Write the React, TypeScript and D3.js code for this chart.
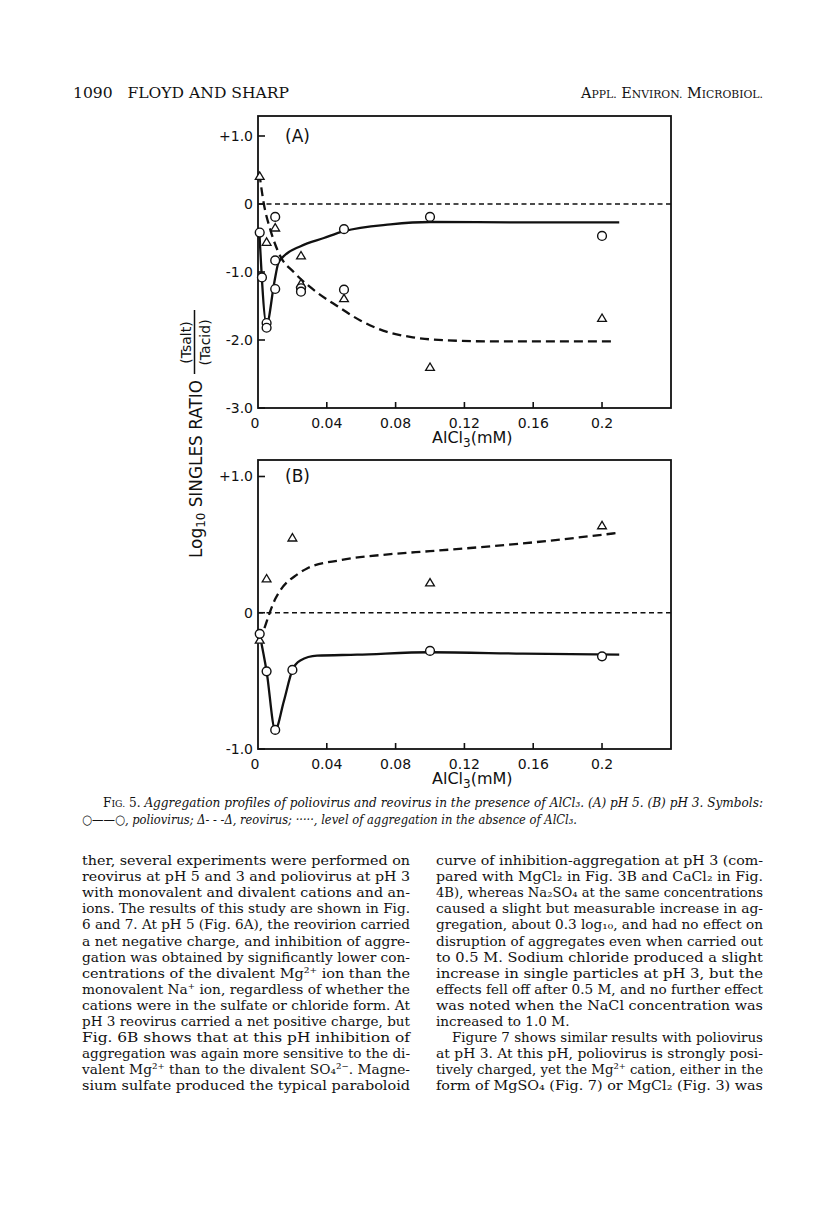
import React from 'react';
import * as d3 from 'd3';

// ---------- axis ticks ----------
const xTicks = [0, 0.04, 0.08, 0.12, 0.16, 0.2];
const xTickLabels = ['0', '0.04', '0.08', '0.12', '0.16', '0.2'];
const yTicksA = [1, 0, -1, -2, -3];
const yTickLabelsA = ['+1.0', '0', '-1.0', '-2.0', '-3.0'];
const yTicksB = [1, 0, -1];
const yTickLabelsB = ['+1.0', '0', '-1.0'];

// ---------- panel A (pH 5) ----------
const polioA_x = [0.001, 0.0023, 0.005, 0.005, 0.01, 0.01, 0.01, 0.025, 0.025, 0.05, 0.05, 0.1, 0.2];
const polioA_y = [-0.42, -1.08, -1.75, -1.82, -0.19, -0.83, -1.25, -1.24, -1.29, -0.37, -1.26, -0.19, -0.47];
const reoA_x = [0.001, 0.005, 0.01, 0.025, 0.025, 0.05, 0.1, 0.2];
const reoA_y = [0.41, -0.56, -0.35, -0.76, -1.17, -1.39, -2.4, -1.68];
const polioFitA_x = [0.0008, 0.005, 0.0095, 0.0118, 0.0149, 0.0248, 0.0383, 0.05, 0.077, 0.1, 0.155, 0.21];
const polioFitA_y = [-0.42, -1.77, -1.15, -0.87, -0.77, -0.62, -0.5, -0.4, -0.3, -0.265, -0.27, -0.27];
const reoFitA_x = [0.0008, 0.0033, 0.0072, 0.013, 0.0207, 0.0343, 0.046, 0.06, 0.075, 0.09, 0.1, 0.135, 0.207];
const reoFitA_y = [0.45, 0.015, -0.38, -0.77, -1.0, -1.3, -1.5, -1.72, -1.88, -1.96, -1.99, -2.02, -2.02];

// ---------- panel B (pH 3) ----------
const polioB_x = [0.001, 0.005, 0.01, 0.02, 0.1, 0.2];
const polioB_y = [-0.155, -0.43, -0.86, -0.42, -0.28, -0.32];
const reoB_x = [0.001, 0.005, 0.02, 0.1, 0.2];
const reoB_y = [-0.2, 0.25, 0.55, 0.22, 0.64];
const polioFitB_x = [0.001, 0.005, 0.01, 0.015, 0.02, 0.0246, 0.0343, 0.0576, 0.1, 0.154, 0.21];
const polioFitB_y = [-0.16, -0.43, -0.86, -0.65, -0.42, -0.35, -0.315, -0.308, -0.29, -0.3, -0.308];
const reoFitB_x = [0.001, 0.0033, 0.0068, 0.01, 0.013, 0.0227, 0.0285, 0.0478, 0.077, 0.1, 0.154, 0.21];
const reoFitB_y = [-0.21, -0.13, 0.0, 0.1, 0.165, 0.28, 0.325, 0.386, 0.43, 0.452, 0.509, 0.587];

// ---------- page text ----------
const headerLeft = '1090   FLOYD AND SHARP';
const leftLines = [
  'ther, several experiments were performed on',
  'reovirus at pH 5 and 3 and poliovirus at pH 3',
  'with monovalent and divalent cations and an-',
  'ions. The results of this study are shown in Fig.',
  '6 and 7. At pH 5 (Fig. 6A), the reovirion carried',
  'a net negative charge, and inhibition of aggre-',
  'gation was obtained by significantly lower con-',
  'centrations of the divalent Mg\u00B2\u207A ion than the',
  'monovalent Na\u207A ion, regardless of whether the',
  'cations were in the sulfate or chloride form. At',
  'pH 3 reovirus carried a net positive charge, but',
  'Fig. 6B shows that at this pH inhibition of',
  'aggregation was again more sensitive to the di-',
  'valent Mg\u00B2\u207A than to the divalent SO\u2084\u00B2\u207B. Magne-',
  'sium sulfate produced the typical paraboloid',
];
const rightLines = [
  'curve of inhibition-aggregation at pH 3 (com-',
  'pared with MgCl\u2082 in Fig. 3B and CaCl\u2082 in Fig.',
  '4B), whereas Na\u2082SO\u2084 at the same concentrations',
  'caused a slight but measurable increase in ag-',
  'gregation, about 0.3 log\u2081\u2080, and had no effect on',
  'disruption of aggregates even when carried out',
  'to 0.5 M. Sodium chloride produced a slight',
  'increase in single particles at pH 3, but the',
  'effects fell off after 0.5 M, and no further effect',
  'was noted when the NaCl concentration was',
  'increased to 1.0 M.',
  'Figure 7 shows similar results with poliovirus',
  'at pH 3. At this pH, poliovirus is strongly posi-',
  'tively charged, yet the Mg\u00B2\u207A cation, either in the',
  'form of MgSO\u2084 (Fig. 7) or MgCl\u2082 (Fig. 3) was',
];
const caption1 = 'Aggregation profiles of poliovirus and reovirus in the presence of AlCl\u2083. (A) pH 5. (B) pH 3. Symbols:';
const caption2 = '\u25CB\u2014\u2014\u25CB, poliovirus; \u0394- - -\u0394, reovirus; \u00B7\u00B7\u00B7\u00B7\u00B7, level of aggregation in the absence of AlCl\u2083.';

const FIG_FONT = '"DejaVu Sans", "Liberation Sans", sans-serif';
const TEXT_FONT = '"DejaVu Serif", "Liberation Serif", serif';

const x = d3.scaleLinear().domain([0, 0.2401]).range([258, 671]);

type PanelProps = {
  y: d3.ScaleLinear<number, number>;
  yTicks: number[];
  yTickLabels: string[];
  label: string;
  polioX: number[]; polioY: number[];
  reoX: number[]; reoY: number[];
  pfX: number[]; pfY: number[];
  rfX: number[]; rfY: number[];
};

function Panel(p: PanelProps) {
  const { y } = p;
  const [y0, y1] = y.range();
  const [x0, x1] = x.range();
  const line = d3.line<[number, number]>()
    .x((d) => x(d[0]))
    .y((d) => y(d[1]))
    .curve(d3.curveMonotoneX);
  const polioFit = p.pfX.map((v, i) => [v, p.pfY[i]] as [number, number]);
  const reoFit = p.rfX.map((v, i) => [v, p.rfY[i]] as [number, number]);
  return (
    <g>
      <rect x={x0} y={y1} width={x1 - x0} height={y0 - y1} fill="none" stroke="#111" strokeWidth={1.8} />
      {p.yTicks.map((t, i) => (
        <g key={'yt' + i}>
          <line x1={x0} x2={x0 + 7} y1={y(t)} y2={y(t)} stroke="#111" strokeWidth={1.6} />
          <text x={x0 - 5} y={y(t) + 5} textAnchor="end" fontFamily={FIG_FONT} fontSize={14} fill="#111">
            {p.yTickLabels[i]}
          </text>
        </g>
      ))}
      {xTicks.map((t, i) => (
        <g key={'xt' + i}>
          {i > 0 && <line x1={x(t)} x2={x(t)} y1={y0} y2={y0 - 6} stroke="#111" strokeWidth={1.6} />}
          <text x={x(t) - (i === 0 ? 3 : 0)} y={y0 + 20} textAnchor="middle" fontFamily={FIG_FONT} fontSize={14} fill="#111">
            {xTickLabels[i]}
          </text>
        </g>
      ))}
      <text x={432} y={y0 + 35} fontFamily={FIG_FONT} fontSize={16} fill="#111">
        AlCl<tspan dy={4} fontSize={12}>3</tspan><tspan dy={-4}>(mM)</tspan>
      </text>
      <text x={285} y={y(1) + 6} fontFamily={FIG_FONT} fontSize={17} fill="#111">{p.label}</text>
      <line x1={x0} x2={x1} y1={y(0)} y2={y(0)} stroke="#111" strokeWidth={1.3} strokeDasharray="5,3.5" />
      <path d={line(reoFit) || ''} fill="none" stroke="#111" strokeWidth={2.3} strokeDasharray="9,5" />
      <path d={line(polioFit) || ''} fill="none" stroke="#111" strokeWidth={2.3} />
      {p.reoX.map((v, i) => {
        const cx = x(v);
        const cy = y(p.reoY[i]);
        return (
          <polygon key={'tr' + i}
            points={`${cx},${cy - 4.2} ${cx - 4.4},${cy + 3.2} ${cx + 4.4},${cy + 3.2}`}
            fill="white" stroke="#111" strokeWidth={1.3} />
        );
      })}
      {p.polioX.map((v, i) => (
        <circle key={'c' + i} cx={x(v)} cy={y(p.polioY[i])} r={4.4} fill="white" stroke="#111" strokeWidth={1.4} />
      ))}
    </g>
  );
}

export default function App() {
  const yA = d3.scaleLinear().domain([-3, 1.294]).range([408, 116]);
  const yB = d3.scaleLinear().domain([-1, 1.121]).range([749, 460]);
  const lineH = 16.1;
  const base0 = 865;
  const fs = 13.6;
  return (
    <svg width={816} height={1215} viewBox="0 0 816 1215"
      style={{ position: 'absolute', left: 0, top: 0, background: 'white' }}>
      <rect x={0} y={0} width={816} height={1215} fill="white" />
      <text x={73} y={98} fontFamily={TEXT_FONT} fontSize={14} fill="#111" textLength={216} lengthAdjust="spacingAndGlyphs" style={{ whiteSpace: 'pre' }}>
        {headerLeft}
      </text>
      <text x={581} y={98} fontFamily={TEXT_FONT} fontSize={14} fill="#111" textLength={182} lengthAdjust="spacingAndGlyphs">
        A<tspan fontSize={10.5}>PPL.</tspan> E<tspan fontSize={10.5}>NVIRON.</tspan> M<tspan fontSize={10.5}>ICROBIOL.</tspan>
      </text>

      <Panel y={yA} yTicks={yTicksA} yTickLabels={yTickLabelsA} label="(A)"
        polioX={polioA_x} polioY={polioA_y} reoX={reoA_x} reoY={reoA_y}
        pfX={polioFitA_x} pfY={polioFitA_y} rfX={reoFitA_x} rfY={reoFitA_y} />
      <Panel y={yB} yTicks={yTicksB} yTickLabels={yTickLabelsB} label="(B)"
        polioX={polioB_x} polioY={polioB_y} reoX={reoB_x} reoY={reoB_y}
        pfX={polioFitB_x} pfY={polioFitB_y} rfX={reoFitB_x} rfY={reoFitB_y} />

      <g transform="translate(202,558) rotate(-90)" fontFamily={FIG_FONT} fill="#111">
        <text x={0} y={0} fontSize={17} textLength={178} lengthAdjust="spacingAndGlyphs">
          Log<tspan dy={3} fontSize={12}>10</tspan><tspan dy={-3}> SINGLES RATIO</tspan>
        </text>
        <text x={215.5} y={-11} fontSize={14} textAnchor="middle">(Tsalt)</text>
        <line x1={184} x2={248} y1={-7.5} y2={-7.5} stroke="#111" strokeWidth={1.5} />
        <text x={215.5} y={7.5} fontSize={14} textAnchor="middle">(Tacid)</text>
      </g>

      <text x={103} y={807} fontFamily={TEXT_FONT} fontSize={13} fill="#111" textLength={660} lengthAdjust="spacingAndGlyphs">
        F<tspan fontSize={10}>IG.</tspan> 5. <tspan fontStyle="italic">{caption1}</tspan>
      </text>
      <text x={82} y={824} fontFamily={TEXT_FONT} fontSize={13} fontStyle="italic" fill="#111" textLength={495} lengthAdjust="spacingAndGlyphs">
        {caption2}
      </text>

      {leftLines.map((l, i) => (
        <text key={'l' + i} x={82} y={base0 + i * lineH} fontFamily={TEXT_FONT} fontSize={fs} fill="#111"
          textLength={328} lengthAdjust="spacingAndGlyphs">
          {l}
        </text>
      ))}
      {rightLines.map((l, i) => {
        const indent = i === 11 ? 16 : 0;
        const justify = i !== 10;
        return (
          <text key={'r' + i} x={436 + indent} y={base0 + i * lineH} fontFamily={TEXT_FONT} fontSize={fs} fill="#111"
            textLength={justify ? 327 - indent : undefined} lengthAdjust={justify ? 'spacingAndGlyphs' : undefined}>
            {l}
          </text>
        );
      })}
    </svg>
  );
}
